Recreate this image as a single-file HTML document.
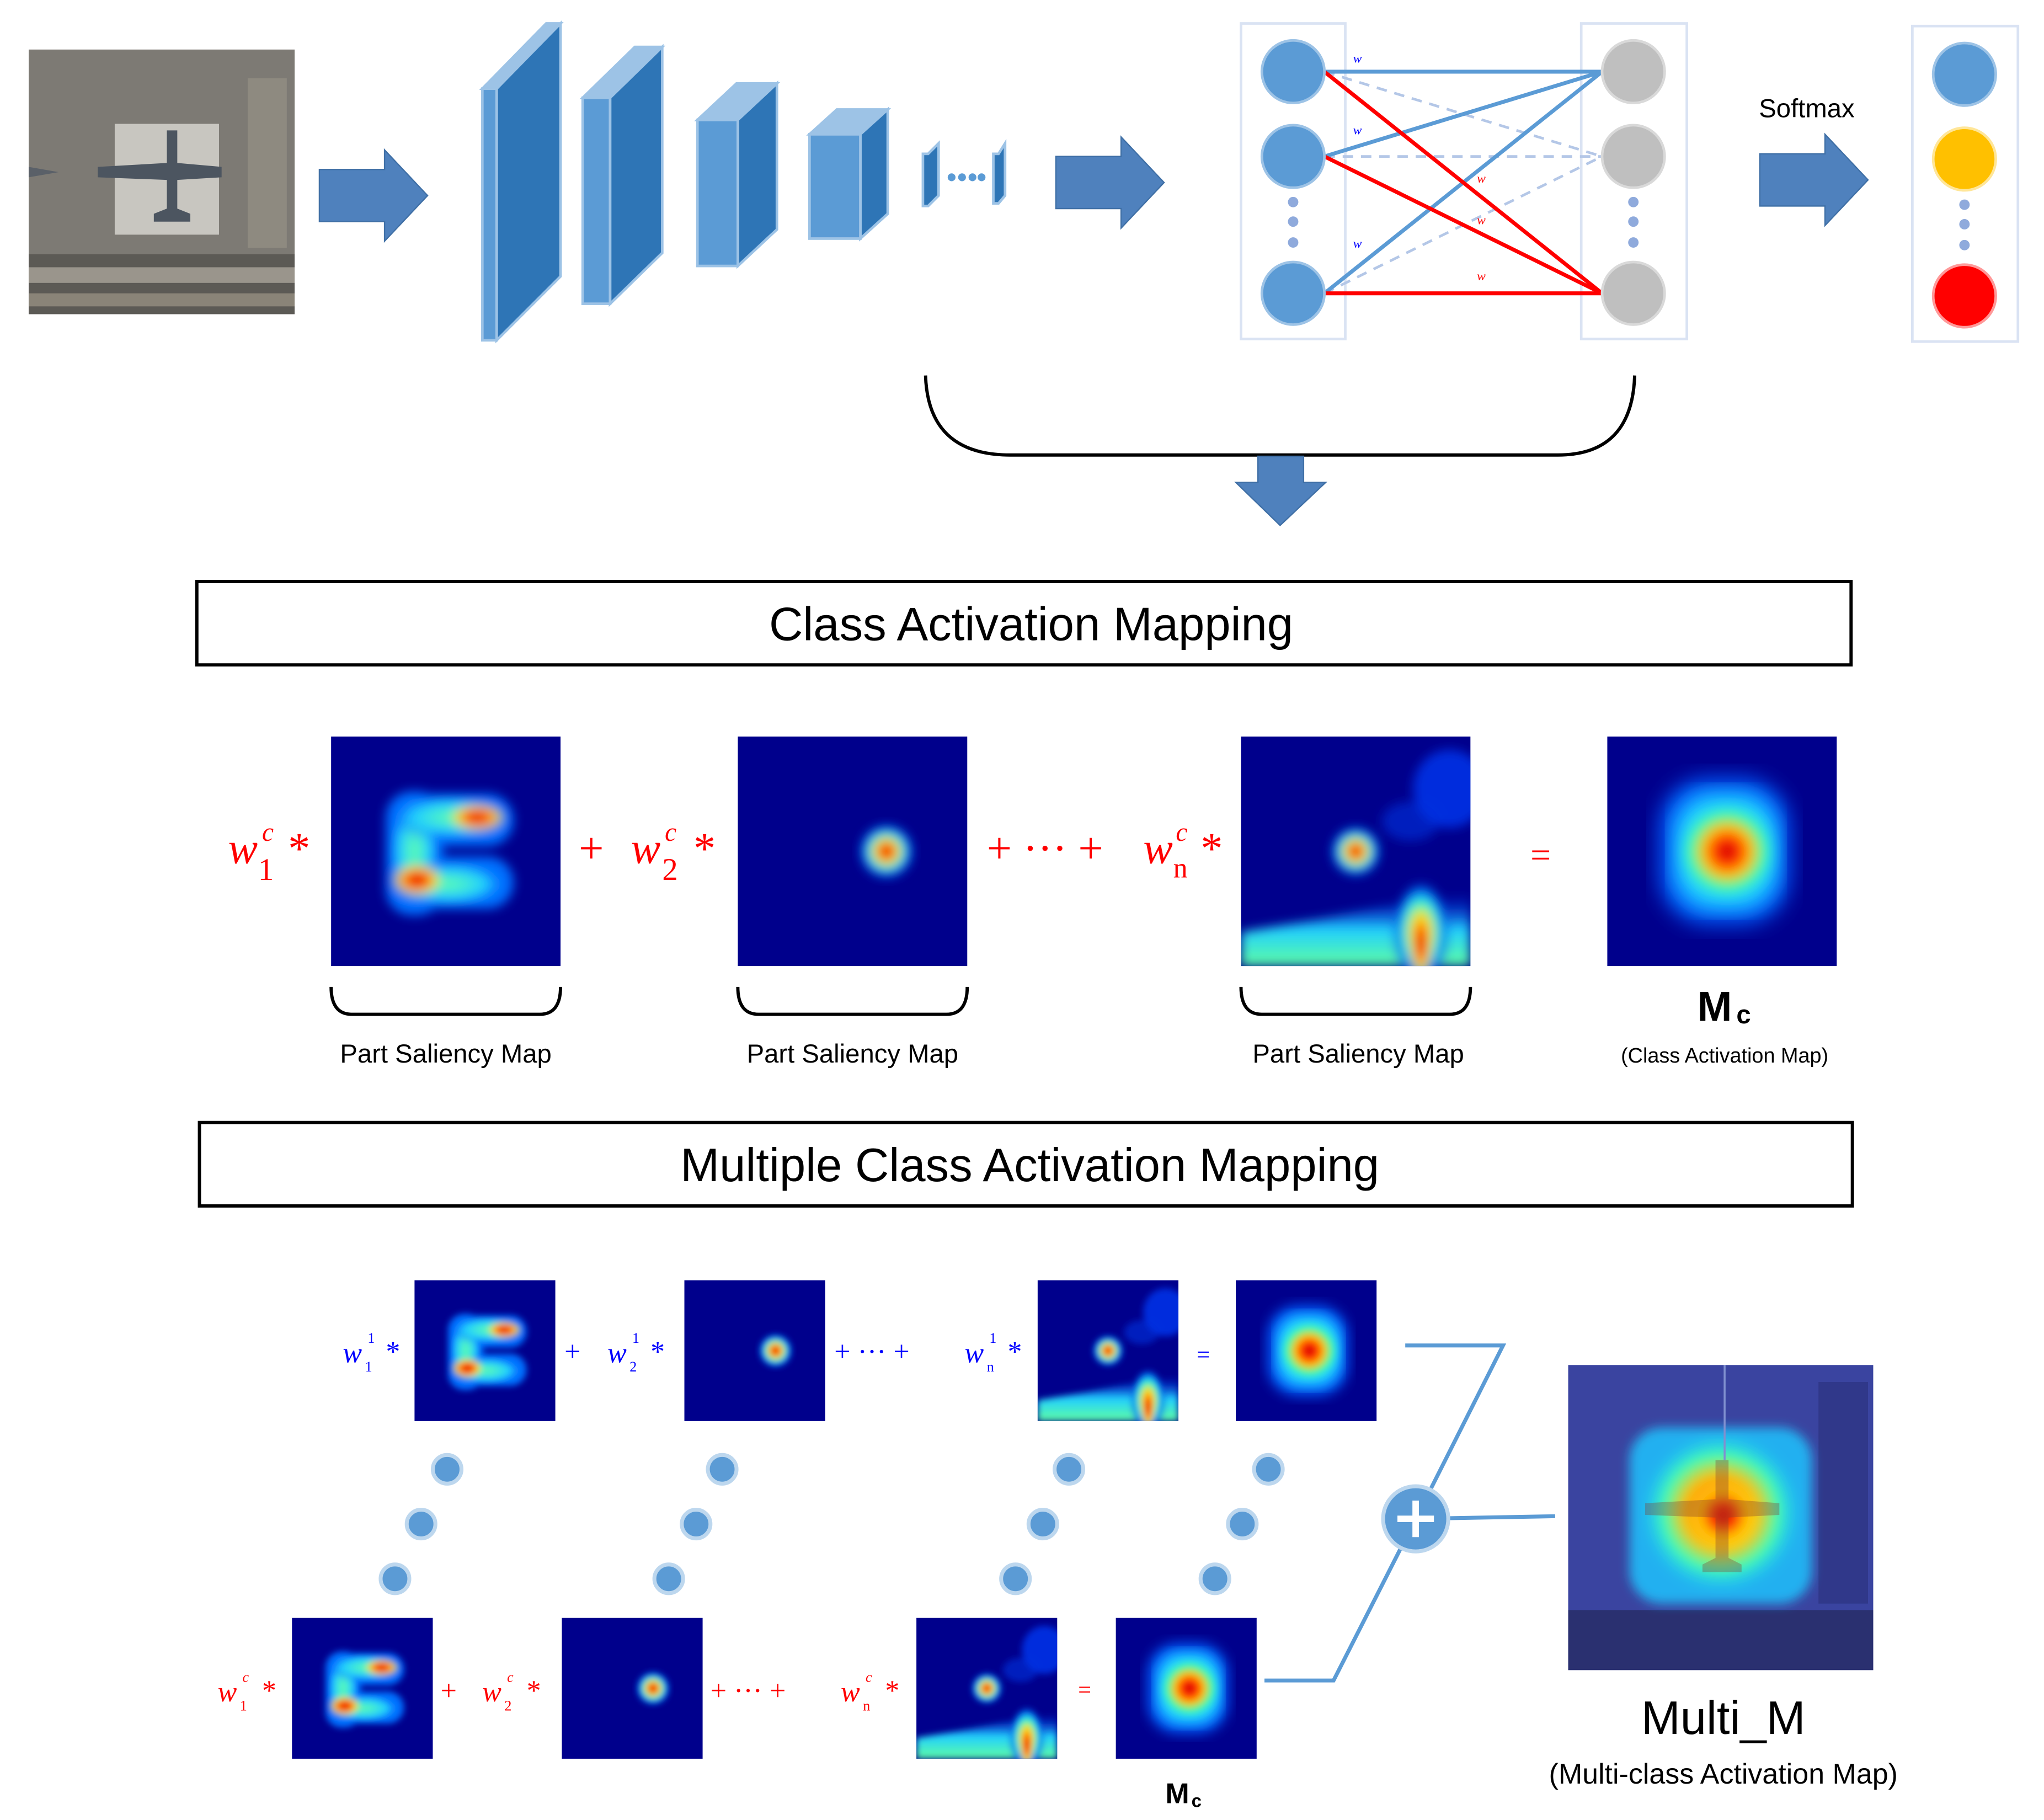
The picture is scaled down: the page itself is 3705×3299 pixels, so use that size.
<!DOCTYPE html>
<html><head><meta charset="utf-8">
<style>html,body{margin:0;padding:0;background:#fff}svg{display:block}</style>
</head><body>
<svg width="3705" height="3299" viewBox="0 0 1568 1396" preserveAspectRatio="none" xmlns="http://www.w3.org/2000/svg" font-family="Liberation Sans, sans-serif">
<defs>
<radialGradient id="jet"><stop offset="0" stop-color="#c00000"/><stop offset="0.18" stop-color="#ff2000"/><stop offset="0.38" stop-color="#ffe000"/><stop offset="0.6" stop-color="#20f0e0"/><stop offset="0.82" stop-color="#0050ff"/><stop offset="1" stop-color="#000090" stop-opacity="0"/></radialGradient>
<radialGradient id="hot"><stop offset="0" stop-color="#d00000"/><stop offset="0.35" stop-color="#ff3000"/><stop offset="0.65" stop-color="#ffd000"/><stop offset="1" stop-color="#ffff40" stop-opacity="0"/></radialGradient>
<radialGradient id="jetc"><stop offset="0" stop-color="#ff1000"/><stop offset="0.3" stop-color="#ffd000"/><stop offset="0.55" stop-color="#30ffd0"/><stop offset="0.8" stop-color="#0070ff"/><stop offset="1" stop-color="#0000a0" stop-opacity="0"/></radialGradient>
<radialGradient id="mc"><stop offset="0" stop-color="#c00000"/><stop offset="0.2" stop-color="#ff2000"/><stop offset="0.45" stop-color="#ffc000"/><stop offset="0.7" stop-color="#40ffb0"/><stop offset="1" stop-color="#20d0ff" stop-opacity="0"/></radialGradient>
<radialGradient id="cy"><stop offset="0" stop-color="#60ffb0"/><stop offset="0.6" stop-color="#20d0ff"/><stop offset="1" stop-color="#0040ff" stop-opacity="0"/></radialGradient>
<linearGradient id="bottomg" x1="0" y1="0" x2="0" y2="1"><stop offset="0" stop-color="#0030ff" stop-opacity="0"/><stop offset="0.5" stop-color="#20d0ff"/><stop offset="1" stop-color="#60ffa0"/></linearGradient>
<filter id="bl"><feGaussianBlur stdDeviation="4"/></filter>
<filter id="bl2"><feGaussianBlur stdDeviation="8"/></filter>
<clipPath id="cp"><rect width="176" height="176"/></clipPath>
<g id="hE"><rect width="176" height="176" fill="#00008c"/><g filter="url(#bl)" clip-path="url(#cp)">
<rect x="42" y="42" width="44" height="95" rx="20" fill="#0070ff"/>
<rect x="48" y="44" width="92" height="40" rx="20" fill="#0070ff"/>
<rect x="48" y="92" width="92" height="40" rx="20" fill="#0070ff"/>
<ellipse cx="64" cy="88" rx="20" ry="48" fill="url(#cy)"/>
<ellipse cx="92" cy="62" rx="48" ry="18" fill="url(#cy)"/>
<ellipse cx="90" cy="113" rx="48" ry="18" fill="url(#cy)"/>
<ellipse cx="112" cy="62" rx="22" ry="11" fill="url(#hot)"/>
<ellipse cx="66" cy="110" rx="20" ry="13" fill="url(#hot)"/></g></g>
<g id="hD"><rect width="176" height="176" fill="#00008c"/><circle cx="114" cy="88" r="22" fill="url(#jet)" filter="url(#bl)"/></g>
<g id="hN"><rect width="176" height="176" fill="#00008c"/><g filter="url(#bl)" clip-path="url(#cp)">
<path d="M0 150 L60 140 L110 130 L176 120 L176 176 L0 176Z" fill="url(#bottomg)"/>
<ellipse cx="160" cy="40" rx="28" ry="30" fill="#0040ff" opacity="0.7"/>
<ellipse cx="130" cy="65" rx="22" ry="15" fill="#0030e0" opacity="0.6"/>
<circle cx="88" cy="88" r="20" fill="url(#jet)"/>
<ellipse cx="138" cy="150" rx="22" ry="40" fill="url(#jetc)"/>
<ellipse cx="138" cy="158" rx="9" ry="28" fill="url(#hot)"/></g></g>
<g id="hM"><rect width="176" height="176" fill="#00008c"/><g clip-path="url(#cp)">
<rect x="40" y="32" width="100" height="112" rx="38" fill="#0060ff" filter="url(#bl2)"/>
<rect x="52" y="44" width="78" height="88" rx="30" fill="#20d0ff" filter="url(#bl2)"/>
<circle cx="92" cy="88" r="40" fill="url(#mc)" filter="url(#bl)"/></g></g>
<g id="arr"><path d="M0 -20 L50 -20 L50 -35 L83 0 L50 35 L50 20 L0 20Z" fill="#4f81bd" stroke="#3f6fa5" stroke-width="1"/></g>
</defs>

<!-- aerial image -->
<rect x="22" y="38" width="204" height="203" fill="#7d7a74"/>
<rect x="22" y="195" width="204" height="46" fill="#5c5a55"/>
<rect x="22" y="205" width="204" height="12" fill="#9a958c"/>
<rect x="22" y="225" width="204" height="10" fill="#8a8478"/>
<rect x="88" y="95" width="80" height="85" fill="#c8c6c0"/>
<rect x="190" y="60" width="30" height="130" fill="#8e8a80"/>
<path d="M128 100 L136 100 L136 125 L170 128 L170 136 L136 138 L136 160 L146 164 L146 170 L118 170 L118 164 L128 160 L128 138 L75 136 L75 128 L128 125Z" fill="#4c5560"/>
<path d="M22 128 L45 132 L22 136Z" fill="#5a6068"/>

<use href="#arr" transform="translate(245,150)"/>

<!-- CNN blocks -->
<g stroke="#9dc3e6" stroke-width="2">
<polygon points="370,68 381,68 430,18 419,18" fill="#9dc3e6"/>
<polygon points="381,68 430,18 430,212 381,261" fill="#2e75b6"/>
<rect x="370" y="68" width="11" height="193" fill="#5b9bd5"/>
<polygon points="447,75 468,75 508,36 487,36" fill="#9dc3e6"/>
<polygon points="468,75 508,36 508,194 468,233" fill="#2e75b6"/>
<rect x="447" y="75" width="21" height="158" fill="#5b9bd5"/>
<polygon points="535,92 566,92 596,64 565,64" fill="#9dc3e6"/>
<polygon points="566,92 596,64 596,176 566,204" fill="#2e75b6"/>
<rect x="535" y="92" width="31" height="112" fill="#5b9bd5"/>
<polygon points="621,103 660,103 681,84 642,84" fill="#9dc3e6"/>
<polygon points="660,103 681,84 681,164 660,183" fill="#2e75b6"/>
<rect x="621" y="103" width="39" height="80" fill="#5b9bd5"/>
<polygon points="708,118 712,118 720,110 720,150 712,158 708,158" fill="#2e75b6"/>
<polygon points="762,118 766,118 771,110 771,150 766,156 762,156" fill="#2e75b6"/>
</g>
<g fill="#5b9bd5"><circle cx="730" cy="136" r="3"/><circle cx="738" cy="136" r="3"/><circle cx="746" cy="136" r="3"/><circle cx="753" cy="136" r="3"/></g>

<use href="#arr" transform="translate(810,140)"/>

<!-- FC -->
<rect x="952" y="18" width="80" height="242" fill="none" stroke="#dae3f3" stroke-width="2"/>
<rect x="1213" y="18" width="81" height="242" fill="none" stroke="#dae3f3" stroke-width="2"/>
<g stroke="#b4c7e7" stroke-width="2" stroke-dasharray="8,6">
<line x1="1016" y1="55" x2="1229" y2="120"/><line x1="1016" y1="120" x2="1229" y2="120"/><line x1="1016" y1="225" x2="1229" y2="120"/></g>
<g stroke="#5b9bd5" stroke-width="3">
<line x1="1016" y1="55" x2="1229" y2="55"/><line x1="1016" y1="120" x2="1229" y2="55"/><line x1="1016" y1="225" x2="1229" y2="55"/></g>
<g stroke="#ff0000" stroke-width="3">
<line x1="1016" y1="55" x2="1229" y2="225"/><line x1="1016" y1="120" x2="1229" y2="225"/><line x1="1016" y1="225" x2="1229" y2="225"/></g>
<g fill="#5b9bd5" stroke="#9dc3e6" stroke-width="2"><circle cx="992" cy="55" r="24"/><circle cx="992" cy="120" r="24"/><circle cx="992" cy="225" r="24"/></g>
<g fill="#8faadc"><circle cx="992" cy="155" r="4"/><circle cx="992" cy="170" r="4"/><circle cx="992" cy="186" r="4"/>
<circle cx="1253" cy="155" r="4"/><circle cx="1253" cy="170" r="4"/><circle cx="1253" cy="186" r="4"/>
<circle cx="1507" cy="157" r="4"/><circle cx="1507" cy="172" r="4"/><circle cx="1507" cy="188" r="4"/></g>
<g fill="#bfbfbf" stroke="#d9d9d9" stroke-width="2"><circle cx="1253" cy="55" r="24"/><circle cx="1253" cy="120" r="24"/><circle cx="1253" cy="225" r="24"/></g>
<g font-family="Liberation Serif, serif" font-style="italic" font-size="10">
<text x="1038" y="48" fill="#0000ff">w</text><text x="1038" y="103" fill="#0000ff">w</text><text x="1038" y="190" fill="#0000ff">w</text>
<text x="1133" y="140" fill="#ff0000">w</text><text x="1133" y="172" fill="#ff0000">w</text><text x="1133" y="215" fill="#ff0000">w</text></g>

<text x="1386" y="90" font-size="20" text-anchor="middle">Softmax</text>
<use href="#arr" transform="translate(1350,138)"/>
<rect x="1467" y="20" width="81" height="242" fill="none" stroke="#dae3f3" stroke-width="2"/>
<circle cx="1507" cy="57" r="24" fill="#5b9bd5" stroke="#9dc3e6" stroke-width="2"/>
<circle cx="1507" cy="122" r="24" fill="#ffc000" stroke="#ffe699" stroke-width="2"/>
<circle cx="1507" cy="227" r="24" fill="#ff0000" stroke="#ff9999" stroke-width="2"/>

<!-- brace -->
<path d="M710 288 Q712 349 775 349 L1195 349 Q1252 349 1254 288" fill="none" stroke="#000" stroke-width="2.5"/>
<path d="M965 350 L1000 350 L1000 370 L1017 370 L982 403 L948 370 L965 370Z" fill="#4f81bd" stroke="#3f6fa5"/>

<!-- CAM box -->
<rect x="151" y="446" width="1269" height="64" fill="#fff" stroke="#000" stroke-width="2.5"/>
<text x="791" y="491" font-size="36" text-anchor="middle">Class Activation Mapping</text>

<use href="#hE" transform="translate(254,565)"/>
<use href="#hD" transform="translate(566,565)"/>
<use href="#hN" transform="translate(952,565)"/>
<use href="#hM" transform="translate(1233,565)"/>
<g font-family="Liberation Serif, serif" fill="#ff0000" font-size="34">
<text x="175" y="662" font-style="italic">w</text><text x="198" y="675" font-size="24">1</text><text x="201" y="645" font-size="20" font-style="italic">c</text><text x="221" y="662">*</text>
<text x="444" y="662">+</text><text x="484" y="662" font-style="italic">w</text><text x="508" y="675" font-size="24">2</text><text x="510" y="645" font-size="20" font-style="italic">c</text><text x="532" y="662">*</text>
<text x="757" y="662">+ ··· +</text><text x="877" y="662" font-style="italic">w</text><text x="900" y="673" font-size="22">n</text><text x="902" y="645" font-size="20" font-style="italic">c</text><text x="921" y="662">*</text>
<text x="1174" y="665" font-size="28">=</text></g>
<g fill="none" stroke="#000" stroke-width="2.5">
<path d="M254 757 Q254 778 270 778 L414 778 Q430 778 430 757"/>
<path d="M566 757 Q566 778 582 778 L726 778 Q742 778 742 757"/>
<path d="M952 757 Q952 778 968 778 L1112 778 Q1128 778 1128 757"/></g>
<g font-size="20" text-anchor="middle"><text x="342" y="815">Part Saliency Map</text><text x="654" y="815">Part Saliency Map</text><text x="1042" y="815">Part Saliency Map</text></g>
<text x="1302" y="783" font-size="32" font-weight="bold">M</text><text x="1332" y="785" font-size="20" font-weight="bold">c</text>
<text x="1323" y="815" font-size="16" text-anchor="middle">(Class Activation Map)</text>

<rect x="153" y="861" width="1268" height="64" fill="#fff" stroke="#000" stroke-width="2.5"/>
<text x="790" y="906" font-size="36" text-anchor="middle">Multiple Class Activation Mapping</text>

<!-- bottom rows -->
<g transform="translate(318,982) scale(0.6136)"><use href="#hE"/></g>
<g transform="translate(525,982) scale(0.6136)"><use href="#hD"/></g>
<g transform="translate(796,982) scale(0.6136)"><use href="#hN"/></g>
<g transform="translate(948,982) scale(0.6136)"><use href="#hM"/></g>
<g transform="translate(224,1241) scale(0.6136)"><use href="#hE"/></g>
<g transform="translate(431,1241) scale(0.6136)"><use href="#hD"/></g>
<g transform="translate(703,1241) scale(0.6136)"><use href="#hN"/></g>
<g transform="translate(856,1241) scale(0.6136)"><use href="#hM"/></g>
<g font-family="Liberation Serif, serif" font-size="22" fill="#0000ff">
<text x="263" y="1045" font-style="italic">w</text><text x="280" y="1052" font-size="11">1</text><text x="282" y="1030" font-size="11">1</text><text x="296" y="1044">*</text>
<text x="433" y="1044">+</text><text x="466" y="1045" font-style="italic">w</text><text x="483" y="1052" font-size="11">2</text><text x="485" y="1030" font-size="11">1</text><text x="499" y="1044">*</text>
<text x="640" y="1044">+ ··· +</text><text x="740" y="1045" font-style="italic">w</text><text x="757" y="1052" font-size="11">n</text><text x="759" y="1030" font-size="11">1</text><text x="773" y="1044">*</text>
<text x="918" y="1045" font-size="18">=</text></g>
<g font-family="Liberation Serif, serif" font-size="22" fill="#ff0000">
<text x="167" y="1305" font-style="italic">w</text><text x="184" y="1312" font-size="11">1</text><text x="186" y="1290" font-size="11" font-style="italic">c</text><text x="201" y="1304">*</text>
<text x="338" y="1304">+</text><text x="370" y="1305" font-style="italic">w</text><text x="387" y="1312" font-size="11">2</text><text x="389" y="1290" font-size="11" font-style="italic">c</text><text x="404" y="1304">*</text>
<text x="545" y="1304">+ ··· +</text><text x="645" y="1305" font-style="italic">w</text><text x="662" y="1312" font-size="11">n</text><text x="664" y="1290" font-size="11" font-style="italic">c</text><text x="679" y="1304">*</text>
<text x="827" y="1302" font-size="18">=</text></g>
<g fill="#5b9bd5" stroke="#bdd7ee" stroke-width="3">
<circle cx="343" cy="1127" r="11"/><circle cx="323" cy="1169" r="11"/><circle cx="303" cy="1211" r="11"/>
<circle cx="554" cy="1127" r="11"/><circle cx="534" cy="1169" r="11"/><circle cx="513" cy="1211" r="11"/>
<circle cx="820" cy="1127" r="11"/><circle cx="800" cy="1169" r="11"/><circle cx="779" cy="1211" r="11"/>
<circle cx="973" cy="1127" r="11"/><circle cx="953" cy="1169" r="11"/><circle cx="932" cy="1211" r="11"/></g>
<g fill="none" stroke="#5b9bd5" stroke-width="3">
<polyline points="1078,1032 1153,1032 1086,1165 1023,1289 970,1289"/>
<line x1="1086" y1="1165" x2="1193" y2="1163"/></g>
<circle cx="1086" cy="1165" r="25" fill="#5b9bd5" stroke="#bdd7ee" stroke-width="3"/>
<path d="M1086 1151 V1179 M1072 1165 H1100" stroke="#fff" stroke-width="5"/>

<!-- overlay image -->
<rect x="1203" y="1047" width="234" height="234" fill="#3a44a0"/>
<rect x="1203" y="1235" width="234" height="46" fill="#2a3070"/>
<rect x="1395" y="1060" width="38" height="170" fill="#30388a"/>
<g filter="url(#bl)"><rect x="1250" y="1095" width="140" height="135" rx="25" fill="#20b0f0"/>
<circle cx="1320" cy="1160" r="62" fill="url(#mc)"/><circle cx="1322" cy="1162" r="28" fill="url(#hot)"/></g>
<path d="M1316 1120 L1326 1120 L1326 1150 L1365 1153 L1365 1162 L1326 1164 L1326 1195 L1336 1200 L1336 1206 L1306 1206 L1306 1200 L1316 1195 L1316 1164 L1262 1162 L1262 1153 L1316 1150Z" fill="#804030" opacity="0.35"/>
<line x1="1323" y1="1047" x2="1323" y2="1120" stroke="#8090d0" stroke-width="1.5"/>
<text x="1322" y="1330" font-size="36" text-anchor="middle">Multi_M</text>
<text x="1322" y="1368" font-size="22" text-anchor="middle">(Multi-class Activation Map)</text>
<text x="894" y="1383" font-size="22" font-weight="bold">M</text><text x="914" y="1386" font-size="14" font-weight="bold">c</text>
</svg>
</body></html>
